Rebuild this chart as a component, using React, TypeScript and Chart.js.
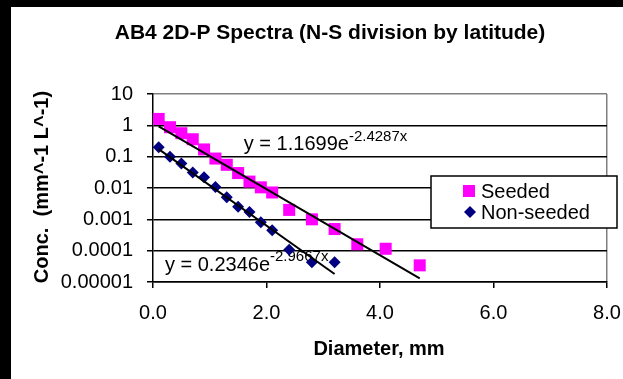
import React, { useEffect, useRef } from "react";
import { Chart, registerables } from "chart.js";

Chart.register(...registerables);

const titleText = "AB4 2D-P Spectra (N-S division by latitude)";
const xTitle = "Diameter, mm";
const yTitle = "Conc.  (mm^-1 L^-1)";
const legendLabels = ["Seeded", "Non-seeded"];

const seededX = [0.1, 0.3, 0.5, 0.7, 0.9, 1.1, 1.3, 1.5, 1.7, 1.9, 2.1, 2.4, 2.8, 3.2, 3.6, 4.1, 4.7];
const seededY = [1.6, 0.87, 0.56, 0.36, 0.17, 0.087, 0.055, 0.03, 0.016, 0.0105, 0.0072, 0.002, 0.001, 0.00049, 0.00016, 0.000115, 0.000034];
const nonSeededX = [0.1, 0.3, 0.5, 0.7, 0.9, 1.1, 1.3, 1.5, 1.7, 1.9, 2.1, 2.4, 2.8, 3.2];
const nonSeededY = [0.2, 0.1, 0.06, 0.031, 0.022, 0.0107, 0.0051, 0.0025, 0.0017, 0.0008, 0.00045, 0.000107, 0.000043, 0.000043];

const seededTrendX = [0.1, 4.7];
const seededTrendY = [0.92, 0.000013];
const nonSeededTrendX = [0.1, 3.2];
const nonSeededTrendY = [0.174, 0.000018];

const eqMain = ["y = 1.1699e", "y = 0.2346e"];
const eqSup = ["-2.4287x", "-2.9667x"];
const eqX = [1.6, 0.21];
const eqY = [0.236, 0.0000348];

const yTickValues = [0.00001, 0.0001, 0.001, 0.01, 0.1, 1, 10];
const yTickLabels = ["0.00001", "0.0001", "0.001", "0.01", "0.1", "1", "10"];
const xTickValues = [0, 2, 4, 6, 8];
const xTickLabels = ["0.0", "2.0", "4.0", "6.0", "8.0"];

const FONT = "'Liberation Sans', Arial, sans-serif";
const MAGENTA = "#FF00FF";
const NAVY = "#000080";

const toPts = (xs: number[], ys: number[]) => xs.map((x, i) => ({ x, y: ys[i] }));

const decor = {
  id: "decor",
  beforeDraw(chart: any) {
    const { ctx, width, height } = chart;
    ctx.save();
    ctx.fillStyle = "#000";
    ctx.fillRect(0, 0, width, height);
    ctx.fillStyle = "#fff";
    ctx.fillRect(11, 7, width - 11, height - 7);
    ctx.restore();
  },
  beforeDatasetsDraw(chart: any) {
    const { ctx } = chart;
    const xs = chart.scales.x;
    const ys = chart.scales.y;
    ctx.save();
    ctx.fillStyle = "#000";
    ctx.textBaseline = "middle";
    ctx.textAlign = "left";
    for (let i = 0; i < eqMain.length; i++) {
      const px = xs.getPixelForValue(eqX[i]);
      const py = ys.getPixelForValue(eqY[i]);
      ctx.font = `20px ${FONT}`;
      ctx.fillText(eqMain[i], px, py);
      const w = ctx.measureText(eqMain[i]).width;
      ctx.font = `15px ${FONT}`;
      ctx.fillText(eqSup[i], px + w, py - 8);
    }
    ctx.restore();
  },
  afterDraw(chart: any) {
    const { ctx } = chart;
    ctx.save();
    ctx.fillStyle = "#000";
    // title
    ctx.font = `bold 21px ${FONT}`;
    ctx.textAlign = "center";
    ctx.textBaseline = "middle";
    ctx.fillText(titleText, 330, 33);
    // axis titles
    ctx.font = `bold 20px ${FONT}`;
    ctx.fillText(xTitle, 379, 349);
    ctx.save();
    ctx.translate(42, 187);
    ctx.rotate(-Math.PI / 2);
    ctx.fillText(yTitle, 0, 0);
    ctx.restore();
    // legend
    ctx.fillStyle = "#fff";
    ctx.fillRect(431, 176, 186, 52);
    ctx.strokeStyle = "#000";
    ctx.lineWidth = 1.5;
    ctx.strokeRect(431, 176, 186, 52);
    ctx.fillStyle = MAGENTA;
    ctx.fillRect(463, 185, 12, 12);
    ctx.fillStyle = NAVY;
    ctx.beginPath();
    ctx.moveTo(470, 206);
    ctx.lineTo(476, 212);
    ctx.lineTo(470, 218);
    ctx.lineTo(464, 212);
    ctx.closePath();
    ctx.fill();
    ctx.fillStyle = "#000";
    ctx.font = `20px ${FONT}`;
    ctx.textAlign = "left";
    ctx.fillText(legendLabels[0], 481, 192);
    ctx.fillText(legendLabels[1], 481, 213);
    ctx.restore();
  },
};

export default function App() {
  const ref = useRef<HTMLCanvasElement | null>(null);
  useEffect(() => {
    document.body.style.margin = "0";
    const canvas = ref.current!;
    const chart = new Chart(canvas, {
      type: "scatter",
      data: {
        datasets: [
          {
            type: "line",
            data: toPts(seededTrendX, seededTrendY),
            borderColor: "#000",
            borderWidth: 2,
            pointRadius: 0,
            fill: false,
            order: 0,
          } as any,
          {
            type: "line",
            data: toPts(nonSeededTrendX, nonSeededTrendY),
            borderColor: "#000",
            borderWidth: 2,
            pointRadius: 0,
            fill: false,
            order: 0,
          } as any,
          {
            label: legendLabels[0],
            data: toPts(seededX, seededY),
            pointStyle: "rect",
            pointRadius: 8.5,
            backgroundColor: MAGENTA,
            borderColor: MAGENTA,
            borderWidth: 0,
            order: 1,
          },
          {
            label: legendLabels[1],
            data: toPts(nonSeededX, nonSeededY),
            pointStyle: "rectRot",
            pointRadius: 6,
            backgroundColor: NAVY,
            borderColor: NAVY,
            borderWidth: 0,
            order: 1,
          },
        ],
      },
      options: {
        responsive: false,
        animation: false,
        devicePixelRatio: 1,
        layout: { padding: { top: 94, right: 16, left: 0, bottom: 0 } },
        plugins: {
          legend: { display: false },
          title: { display: false },
          tooltip: { enabled: false },
        },
        scales: {
          x: {
            type: "linear",
            min: 0,
            max: 8,
            afterBuildTicks: (s: any) => {
              s.ticks = xTickValues.map((v) => ({ value: v }));
            },
            afterFit: (s: any) => {
              s.height = 97;
              s.paddingLeft = 0;
              s.paddingRight = 0;
            },
            ticks: {
              callback: (_v: any, i: number) => xTickLabels[i],
              font: { family: FONT, size: 20 },
              color: "#000",
              padding: 13,
              maxRotation: 0,
              autoSkip: false,
            },
            grid: {
              color: (c: any) => (c.tick && c.tick.value === 8 ? "#808080" : "rgba(0,0,0,0)"),
              lineWidth: 1.5,
              drawTicks: true,
              tickLength: 6,
              tickColor: "#000",
              tickWidth: 1.5,
            },
            border: { display: true, color: "#000", width: 1.5 },
          },
          y: {
            type: "logarithmic",
            min: 0.00001,
            max: 10,
            afterBuildTicks: (s: any) => {
              s.ticks = yTickValues.map((v) => ({ value: v }));
            },
            afterFit: (s: any) => {
              s.width = 153;
              s.paddingTop = 0;
              s.paddingBottom = 0;
            },
            ticks: {
              callback: (_v: any, i: number) => yTickLabels[i],
              font: { family: FONT, size: 20 },
              color: "#000",
              padding: 14,
              autoSkip: false,
            },
            grid: {
              color: (c: any) => (c.tick && c.tick.value === 10 ? "#808080" : "#000"),
              lineWidth: 1.5,
              drawTicks: true,
              tickLength: 6,
              tickColor: "#000",
              tickWidth: 1.5,
            },
            border: { display: true, color: "#000", width: 1.5 },
          },
        },
      },
      plugins: [decor],
    } as any);
    return () => chart.destroy();
  }, []);
  return (
    <div style={{ width: 623, height: 379 }}>
      <canvas ref={ref} width={623} height={379} style={{ display: "block" }} />
    </div>
  );
}
